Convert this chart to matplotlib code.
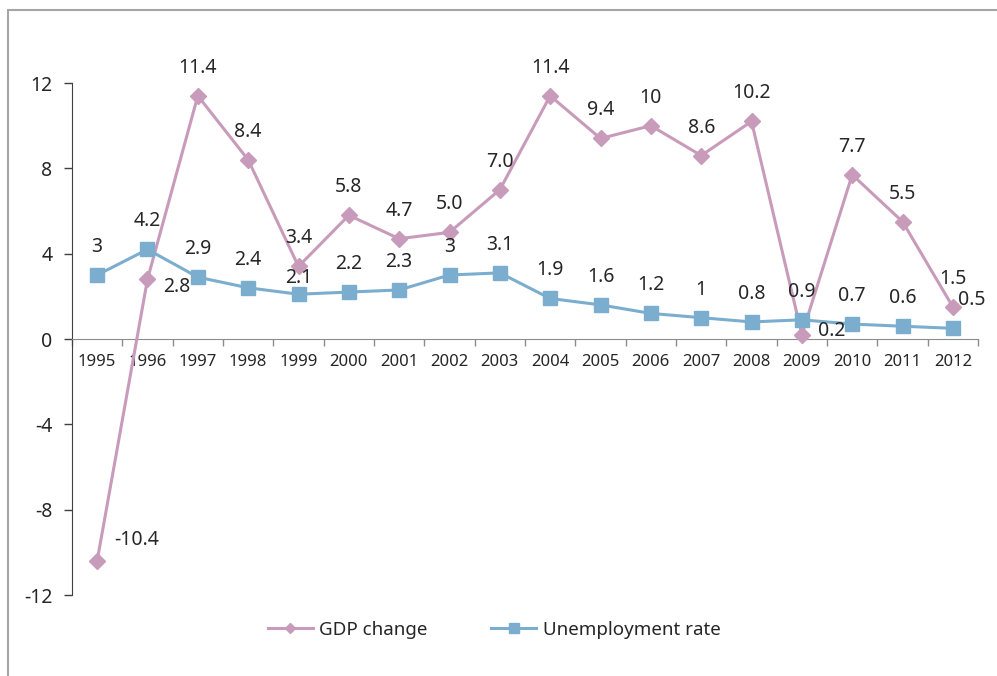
import matplotlib
matplotlib.use('Agg')
import matplotlib.pyplot as plt
from matplotlib.patches import Rectangle
import numpy as np

# Data
years = ['1995', '1996', '1997', '1998', '1999', '2000', '2001', '2002', '2003',
         '2004', '2005', '2006', '2007', '2008', '2009', '2010', '2011', '2012']
gdp_change = [-10.4, 2.8, 11.4, 8.4, 3.4, 5.8, 4.7, 5.0, 7.0,
              11.4, 9.4, 10, 8.6, 10.2, 0.2, 7.7, 5.5, 1.5]
gdp_labels = ['-10.4', '2.8', '11.4', '8.4', '3.4', '5.8', '4.7', '5.0', '7.0',
              '11.4', '9.4', '10', '8.6', '10.2', '0.2', '7.7', '5.5', '1.5']
unemployment = [3, 4.2, 2.9, 2.4, 2.1, 2.2, 2.3, 3, 3.1,
                1.9, 1.6, 1.2, 1, 0.8, 0.9, 0.7, 0.6, 0.5]
unemp_labels = ['3', '4.2', '2.9', '2.4', '2.1', '2.2', '2.3', '3', '3.1',
                '1.9', '1.6', '1.2', '1', '0.8', '0.9', '0.7', '0.6', '0.5']

plt.rcParams['font.family'] = ['Noto Sans', 'DejaVu Sans']

gdp_color = '#C99BBA'
unemp_color = '#7BADCF'
text_color = '#262626'

fig = plt.figure(figsize=(9.97, 6.76), dpi=100)
ax = fig.add_axes([0.0722, 0.1198, 0.9088, 0.7574])

x = np.arange(len(years))
ax.plot(x, gdp_change, color=gdp_color, lw=2.2, marker='D', markersize=8,
        label='GDP change', zorder=3)
ax.plot(x, unemployment, color=unemp_color, lw=2.2, marker='s', markersize=10,
        label='Unemployment rate', zorder=3)

# label offsets in points (default: centered above the marker)
px = 0.72
gdp_offsets = {0: (40 * px, 21 * px), 1: (29 * px, -8 * px), 14: (30 * px, 4 * px)}
unemp_offsets = {4: (0, 16 * px), 17: (19 * px, 28 * px)}

for i, (v, s) in enumerate(zip(gdp_change, gdp_labels)):
    off = gdp_offsets.get(i, (0, 28 * px))
    ax.annotate(s, (i, v), xytext=off, textcoords='offset points',
                ha='center', va='center', fontsize=14, color=text_color)
for i, (v, s) in enumerate(zip(unemployment, unemp_labels)):
    off = unemp_offsets.get(i, (0, 28 * px))
    ax.annotate(s, (i, v), xytext=off, textcoords='offset points',
                ha='center', va='center', fontsize=14, color=text_color)

ax.set_xlim(-0.5, len(years) - 0.5)
ax.set_ylim(-12, 12)
ax.set_yticks([-12, -8, -4, 0, 4, 8, 12])
ax.set_yticklabels(['-12', '-8', '-4', '0', '4', '8', '12'])
ax.tick_params(axis='y', length=6, width=1, color='#404040', labelsize=14,
               labelcolor=text_color, pad=8)

ax.spines['bottom'].set_position(('data', 0))
ax.spines['bottom'].set_color('#8c8c8c')
ax.spines['left'].set_color('#404040')
ax.spines['top'].set_visible(False)
ax.spines['right'].set_visible(False)

ax.set_xticks(x)
ax.set_xticklabels(years)
ax.tick_params(axis='x', which='major', length=0, labelsize=12,
               labelcolor=text_color, pad=11)
ax.set_xticks(np.arange(-0.5, len(years)), minor=True)
ax.tick_params(axis='x', which='minor', length=5, width=1, color='#8c8c8c')

fig.legend(loc='center', bbox_to_anchor=(0.4955, 0.068), ncol=2, frameon=False,
           fontsize=13.5, markerscale=0.7, handlelength=2.4, handletextpad=0.35,
           columnspacing=3.4, labelcolor=text_color)

# outer chart frame
fig.patches.append(Rectangle((8 / 997, -0.05), 1.1, 1 - 10 / 676 + 0.05,
                             transform=fig.transFigure, fill=False,
                             edgecolor='#A6A6A6', lw=1.5))

plt.savefig('out.png', dpi=100)
plt.close()
